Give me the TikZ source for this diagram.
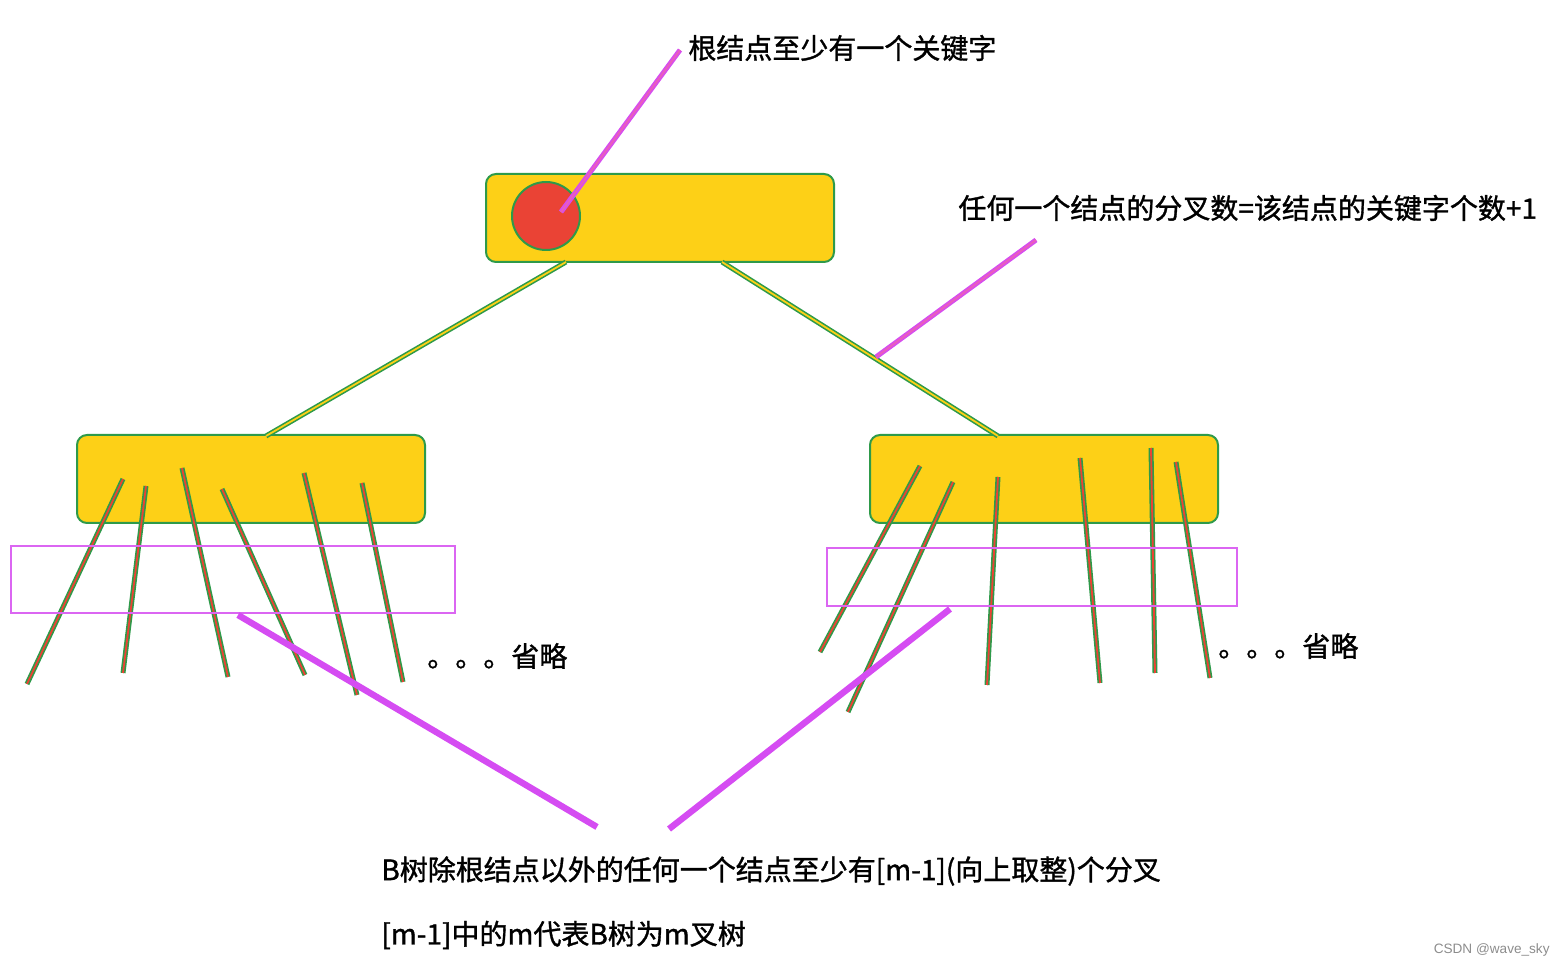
\documentclass[tikz,border=0pt]{standalone}
\usepackage{fontspec}
\newfontfamily\cjk{Noto Sans CJK SC}[FakeBold=1.2]
\newfontfamily\marksans{Liberation Sans}
\definecolor{keyyellow}{HTML}{FDD017}
\definecolor{boxgreen}{HTML}{2E9A4A}
\definecolor{keyred}{HTML}{EA4335}
\definecolor{notepurple}{HTML}{D54CF2}
\definecolor{notepink}{HTML}{E85CC0}
\definecolor{rimpink}{HTML}{DB66F2}

\begin{document}
\begin{tikzpicture}[
	x=0.5pt, y=-0.5pt,
	treenode/.style={ draw=boxgreen, line width=1pt, fill=keyyellow, rounded corners=5pt, minimum width=174pt, minimum height=44pt, inner sep=0pt },
	keynode/.style={ circle, draw=boxgreen, line width=1pt, fill=keyred, minimum size=34pt, inner sep=0pt },
	branch/.style={ draw=boxgreen, double=keyyellow, line width=0.8pt, double distance=0.9pt },
	child/.style={ draw=boxgreen, double=keyred, line width=0.8pt, double distance=0.9pt },
	pointer/.style={ draw=notepurple, double=notepink, line width=0.7pt, double distance=1.1pt },
	bigpointer/.style={ draw=notepurple, line width=3.2pt },
	layer/.style={ draw=rimpink, line width=0.8pt },
	note/.style={ font=\cjk\fontsize{14pt}{16pt}\selectfont, inner sep=0pt, anchor=west }
]
\useasboundingbox (0,0) rectangle (1565,967);

\node[treenode] at (660,218) (root) {};
\node[keynode] at (546,216) (key) {};
\node[treenode] at (251,479) (left) {};
\node[treenode] at (1044,479) (right) {};

\coordinate (rootl) at (566,262);
\coordinate (rootr) at (722,262);
\coordinate (leftt) at (266,436);
\coordinate (rightt) at (998,436);
\draw[branch] (rootl) to (leftt);
\draw[branch] (rootr) to (rightt);

\foreach \xa/\ya/\xb/\yb [count=\i] in {123/479/27/684, 146/486/123/673, 182/468/228/677, 222/489/305/675, 304/473/357/695, 362/483/403/682}
{
	\coordinate (lt\i) at (\xa,\ya);
	\coordinate (lb\i) at (\xb,\yb);
	\draw[child] (lt\i) to (lb\i);
}
\foreach \xa/\ya/\xb/\yb [count=\i] in {920/466/820/652, 953/482/848/712, 998/477/987/685, 1080/458/1100/683, 1151/448/1155/673, 1176/462/1210/678}
{
	\coordinate (rt\i) at (\xa,\ya);
	\coordinate (rb\i) at (\xb,\yb);
	\draw[child] (rt\i) to (rb\i);
}

\draw[layer] (11,546) rectangle (455,613);
\draw[layer] (827,548) rectangle (1237,606);

\node[note] at (427,656) (leftmore) {。。。省略};
\node[note] at (1218,646) (rightmore) {。。。省略};

\node[note] at (688,48) (rootnote) {根结点至少有一个关键字};
\node[note] at (958,208) (branchnote) {任何一个结点的分叉数=该结点的关键字个数+1};
\node[note] at (381,871) (rulenote) {B树除根结点以外的任何一个结点至少有[m-1](向上取整)个分叉};
\node[note] at (381,935) (mnote) {[m-1]中的m代表B树为m叉树};

\coordinate (keytip) at (561,212);
\coordinate (rootnotetip) at (680,50);
\draw[pointer] (rootnotetip) to (keytip);
\coordinate (branchtip) at (876,357);
\coordinate (branchnotetip) at (1036,240);
\draw[pointer] (branchnotetip) to (branchtip);
\coordinate (leftlayertip) at (238,615);
\coordinate (rightlayertip) at (950,609);
\coordinate (rulel) at (597,827);
\coordinate (ruler) at (669,829);
\draw[bigpointer] (leftlayertip) to (rulel);
\draw[bigpointer] (rightlayertip) to (ruler);

\node[font=\marksans\fontsize{6.8pt}{8pt}\selectfont, text=black!45, inner sep=0pt, anchor=east] at (1550,950) (mark) {CSDN @wave\_sky};

\end{tikzpicture}
\end{document}
